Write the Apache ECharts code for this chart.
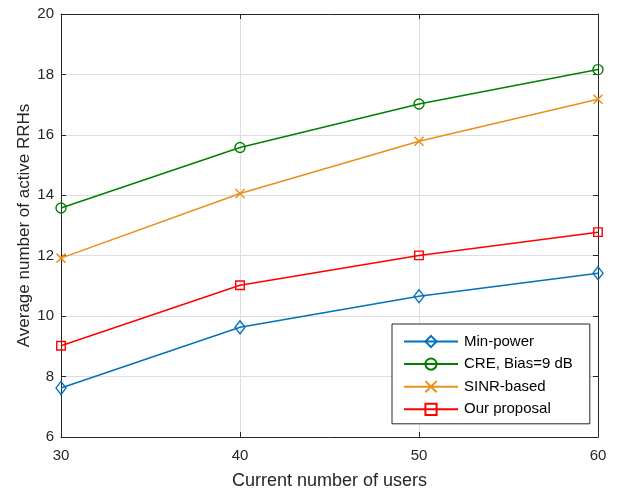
<!DOCTYPE html>
<html>
<head>
<meta charset="utf-8">
<script src="https://cdn.jsdelivr.net/npm/echarts@6/dist/echarts.min.js"></script>
<style>
  html, body { margin: 0; padding: 0; background: #fff; }
  #chart { width: 629px; height: 490px; }
</style>
</head>
<body>
<div id="chart"></div>
<script>
// Number of users on the horizontal axis
const users = [30, 40, 50, 60];

// Average number of active RRHs for each scheme
const minPower = [7.62, 9.63, 10.66, 11.42];
const creBias9 = [13.58, 15.58, 17.02, 18.16];
const sinrBased = [11.92, 14.06, 15.79, 17.18];
const ourProposal = [9.02, 11.02, 12.01, 12.78];

const seriesNames = ['Min-power', 'CRE, Bias=9 dB', 'SINR-based', 'Our proposal'];

const FONT = '"Liberation Sans", Arial, Helvetica, sans-serif';
const AXIS_COLOR = '#262626';

function pairs(values) {
  return users.map((u, i) => [u, values[i]]);
}

function lineSeries(name, values, color, symbol, symbolSize, extra) {
  return Object.assign({
    name: name,
    type: 'line',
    xAxisIndex: 0,
    yAxisIndex: 0,
    data: pairs(values),
    symbol: symbol,
    symbolSize: symbolSize,
    showAllSymbol: true,
    lineStyle: { color: color, width: 1.5 },
    itemStyle: { color: 'rgba(255,255,255,0)', borderColor: color, borderWidth: 1.4 },
    emphasis: { disabled: true },
    animation: false,
    z: 3
  }, extra || {});
}

const chart = echarts.init(document.getElementById('chart'), null, { renderer: 'canvas' });

const tickCommon = {
  axisLine: { show: true, lineStyle: { color: AXIS_COLOR, width: 1 } },
  axisTick: { show: true, inside: true, length: 5, lineStyle: { color: AXIS_COLOR, width: 1 } }
};

chart.setOption({
  backgroundColor: '#ffffff',
  animation: false,
  textStyle: { fontFamily: FONT },
  grid: { left: 61, right: 31, top: 14, bottom: 53, containLabel: false, outerBoundsMode: 'none' },
  legend: {
    data: seriesNames,
    orient: 'vertical',
    left: 392,
    top: 324,
    padding: [10, 17, 7, 11],
    itemWidth: 54,
    itemHeight: 14,
    itemGap: 7.6,
    backgroundColor: '#ffffff',
    borderColor: AXIS_COLOR,
    borderWidth: 1,
    borderRadius: 0,
    textStyle: { fontFamily: FONT, fontSize: 15, color: '#000000', padding: [0, 0, 0, 1] },
    selectedMode: false
  },
  xAxis: [
    Object.assign({
      type: 'value',
      min: 30, max: 60, interval: 10,
      position: 'bottom',
      name: 'Current number of users',
      nameLocation: 'middle',
      nameGap: 35,
      nameMoveOverlap: false,
      nameTextStyle: { fontFamily: FONT, fontSize: 18, color: AXIS_COLOR },
      axisLabel: { fontFamily: FONT, fontSize: 15, color: AXIS_COLOR, margin: 11 },
      splitLine: { show: true, lineStyle: { color: '#dedede', width: 1 } }
    }, tickCommon),
    Object.assign({
      type: 'value',
      min: 30, max: 60, interval: 10,
      position: 'top',
      axisLabel: { show: false },
      splitLine: { show: false }
    }, tickCommon)
  ],
  yAxis: [
    Object.assign({
      type: 'value',
      min: 6, max: 20, interval: 2,
      position: 'left',
      name: 'Average number of active RRHs',
      nameLocation: 'middle',
      nameGap: 28,
      nameMoveOverlap: false,
      nameRotate: 90,
      nameTextStyle: { fontFamily: FONT, fontSize: 17, color: AXIS_COLOR },
      axisLabel: { fontFamily: FONT, fontSize: 15, color: AXIS_COLOR, margin: 7 },
      splitLine: { show: true, lineStyle: { color: '#dedede', width: 1 } }
    }, tickCommon),
    Object.assign({
      type: 'value',
      min: 6, max: 20, interval: 2,
      position: 'right',
      axisLabel: { show: false },
      splitLine: { show: false }
    }, tickCommon)
  ],
  series: [
    lineSeries(seriesNames[0], minPower, '#0072BD', 'diamond', [10, 13]),
    lineSeries(seriesNames[1], creBias9, '#008000', 'circle', 10),
    lineSeries(seriesNames[2], sinrBased, '#E8901A', 'path://M0,0L10,10M10,0L0,10', 9,
      { itemStyle: { color: 'rgba(255,255,255,0)', borderColor: '#E8901A', borderWidth: 1.5 } }),
    lineSeries(seriesNames[3], ourProposal, '#FF0000', 'rect', 8.5)
  ]
});
</script>
</body>
</html>
